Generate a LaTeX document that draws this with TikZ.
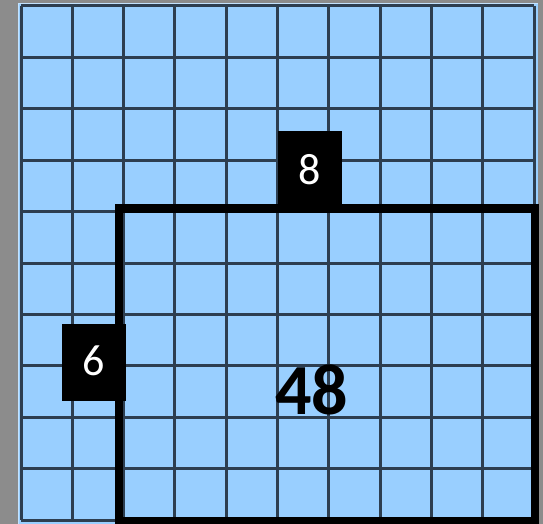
\documentclass[tikz,border=0pt]{standalone}
\usepackage{fontspec}
\setmainfont{Carlito}
\definecolor{bggray}{RGB}{140,140,140}
\definecolor{cellblue}{RGB}{153,207,255}
\definecolor{gridline}{RGB}{45,62,80}
\tikzset{
  gridstyle/.style={draw=gridline, line width=3pt},
  areabox/.style={draw=black, line width=8.5pt},
  labelbox/.style={fill=black, text=white, minimum width=64pt, minimum height=77pt, inner sep=0pt,
    font=\fontsize{44}{44}\selectfont},
  bignum/.style={text=black, inner sep=0pt, font=\fontsize{72}{72}\selectfont\bfseries}
}
\begin{document}
\begin{tikzpicture}[x=1pt,y=-1pt]
\useasboundingbox (0,0) rectangle (543,524);
\fill[bggray] (0,0) rectangle (543,524);
\fill[cellblue] (18,3) rectangle (538,524);
\draw[cellblue!60!white, line width=1pt] (18.5,3.5) -- (537.5,3.5);
\draw[cellblue!60!white, line width=1pt] (18.5,3.5) -- (18.5,524);
% grid
\foreach \i in {0,...,10}{
  \draw[gridstyle] ({21+51.3*\i},6) -- ({21+51.3*\i},520);
  \draw[gridstyle] (21,{6+51.4*\i}) -- (534,{6+51.4*\i});
}
% area rectangle
\draw[areabox] (118.8,208.3) rectangle (535,521);
% labels
\node[labelbox] (top) at (309.7,169.5) {8};
\node[labelbox, text depth=4pt] (left) at (94,362.5) {6};
\node[bignum] (area) at (311.5,390) {48};
\end{tikzpicture}
\end{document}
